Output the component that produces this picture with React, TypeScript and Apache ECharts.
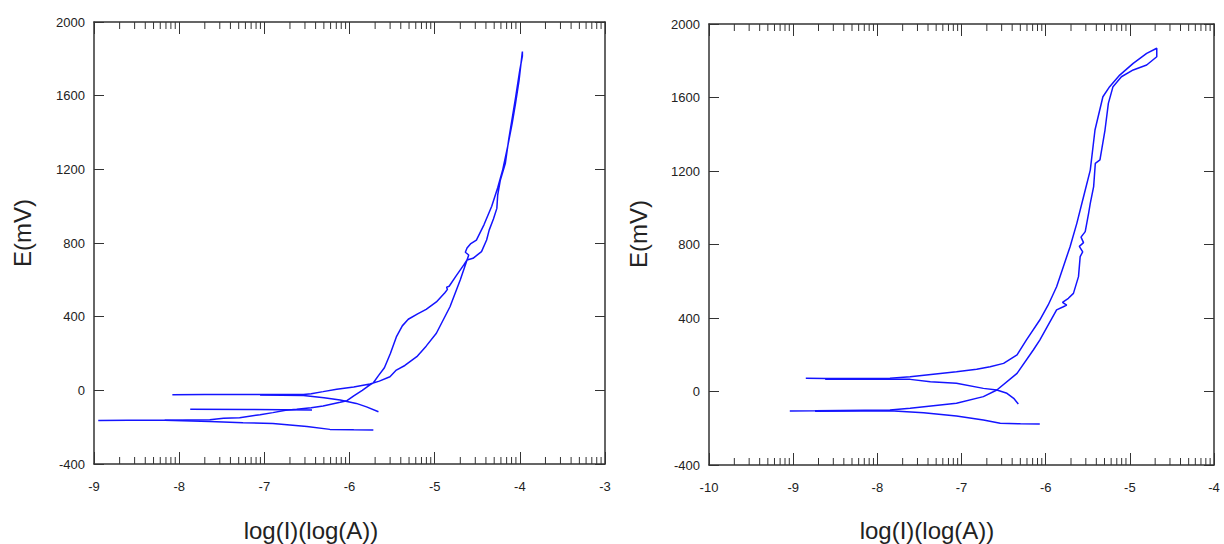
import React, { useEffect, useRef } from "react";
import * as echarts from "echarts";

// ---------- data (log I [log A], E [mV]) ----------
const LEFT_MAIN_LOOP: number[][] = [
  [-8.95, -164], [-8.6, -163], [-8.17, -162], [-7.64, -160], [-7.48, -152], [-7.29, -149],
  [-7.05, -132], [-6.9, -121], [-6.75, -108], [-6.62, -103], [-6.45, -95], [-6.31, -85],
  [-6.11, -65], [-6.03, -56], [-5.95, -30], [-5.85, 0], [-5.76, 30], [-5.72, 41], [-5.66, 80],
  [-5.59, 123], [-5.52, 200], [-5.45, 290], [-5.38, 350], [-5.31, 386], [-5.2, 415],
  [-5.1, 440], [-4.98, 480], [-4.88, 530], [-4.85, 548], [-4.86, 560], [-4.83, 565],
  [-4.75, 620], [-4.66, 680], [-4.62, 708], [-4.6, 735], [-4.64, 750], [-4.62, 773],
  [-4.58, 795], [-4.51, 816], [-4.42, 900], [-4.33, 1000], [-4.26, 1100], [-4.2, 1200],
  [-4.14, 1330], [-4.09, 1450], [-4.05, 1560], [-4.01, 1680], [-3.97, 1840],
  [-3.97, 1815], [-4.0, 1740], [-4.05, 1590], [-4.09, 1477], [-4.13, 1364], [-4.17, 1233],
  [-4.23, 1139], [-4.26, 1060], [-4.27, 988], [-4.31, 930], [-4.36, 870], [-4.39, 816],
  [-4.45, 753], [-4.55, 717], [-4.62, 708], [-4.7, 599], [-4.82, 454], [-4.98, 310],
  [-5.1, 240], [-5.21, 183], [-5.35, 135], [-5.45, 110], [-5.525, 74], [-5.65, 50],
  [-5.76, 34], [-5.95, 18], [-6.15, 6], [-6.31, -7], [-6.45, -18], [-6.54, -22],
  [-7.0, -22], [-7.29, -22], [-7.7, -23], [-8.08, -24],
];
const LEFT_LOWER_BRANCH: number[][] = [
  [-8.17, -163], [-7.64, -169], [-7.25, -176], [-6.9, -180], [-6.7, -188], [-6.5, -197],
  [-6.23, -212], [-5.95, -214], [-5.72, -215],
];
const LEFT_MID_BRANCH: number[][] = [
  [-7.87, -103], [-7.2, -104], [-6.44, -107],
];
const LEFT_BEND_BRANCH: number[][] = [
  [-7.05, -26], [-6.54, -28], [-6.3, -40], [-6.11, -52], [-5.92, -71], [-5.8, -90], [-5.66, -116],
];

const RIGHT_MAIN_LOOP: number[][] = [
  [-8.85, 72], [-8.62, 71], [-8.2, 71], [-7.85, 72], [-7.61, 80], [-7.335, 94], [-7.06, 108],
  [-6.82, 121], [-6.66, 135], [-6.5, 153], [-6.34, 199], [-6.23, 280], [-6.07, 389],
  [-5.97, 471], [-5.87, 570], [-5.83, 625], [-5.71, 788], [-5.63, 915], [-5.55, 1060],
  [-5.47, 1205], [-5.414, 1423], [-5.32, 1604], [-5.24, 1659], [-5.12, 1722], [-4.96, 1786],
  [-4.8, 1840], [-4.68, 1868],
  [-4.68, 1822], [-4.8, 1777], [-4.96, 1750], [-5.1, 1713], [-5.2, 1659], [-5.255, 1568],
  [-5.295, 1423], [-5.355, 1260], [-5.41, 1242], [-5.43, 1115], [-5.47, 1024], [-5.49, 970],
  [-5.53, 870], [-5.58, 840], [-5.55, 810], [-5.6, 790], [-5.56, 760], [-5.59, 734],
  [-5.61, 625], [-5.67, 534], [-5.73, 507], [-5.8, 485], [-5.75, 470], [-5.79, 461],
  [-5.87, 444], [-6.07, 280], [-6.147, 226], [-6.34, 99], [-6.58, 8], [-6.74, -28],
  [-7.06, -64], [-7.61, -91], [-7.85, -101], [-8.74, -105], [-9.04, -106],
];
const RIGHT_UPPER_BEND: number[][] = [
  [-8.62, 67], [-8.2, 67], [-7.85, 66], [-7.61, 66], [-7.37, 53], [-7.06, 45], [-6.74, 17],
  [-6.58, 8], [-6.46, -10], [-6.38, -37], [-6.325, -68],
];
const RIGHT_LOWER_BRANCH: number[][] = [
  [-8.74, -107], [-8.2, -106], [-7.85, -105], [-7.45, -115], [-7.06, -133], [-6.74, -155],
  [-6.54, -173], [-6.3, -176], [-6.07, -177],
];

// axis ranges / ticks
const LEFT_X_RANGE = [-9, -3];
const RIGHT_X_RANGE = [-10, -4];
const Y_RANGE = [-400, 2000];
const Y_STEP = 400;
// minor log-decade tick offsets (log10 of 2..9)
const MINOR_OFFSETS = [0.301, 0.477, 0.602, 0.699, 0.778, 0.845, 0.903, 0.954];

const X_TITLE = "log(I)(log(A))";
const Y_TITLE = "E(mV)";

const FONT = "Liberation Sans, Arial, sans-serif";
const AXIS_COLOR = "#333";
const LINE_COLOR = "#1414ff";

function minorTicks(range: number[]): number[][] {
  const out: number[][] = [];
  for (let d = range[0]; d < range[1]; d++) {
    MINOR_OFFSETS.forEach((o) => out.push([d + o, 0]));
  }
  return out;
}

export default function App() {
  const ref = useRef<HTMLDivElement>(null);

  useEffect(() => {
    if (!ref.current) return;
    const chart = echarts.init(ref.current, undefined, { renderer: "svg" });

    const grids = [
      { left: 94, top: 22, width: 511, height: 442 },
      { left: 709, top: 24, width: 505, height: 441 },
    ];
    const ranges = [LEFT_X_RANGE, RIGHT_X_RANGE];
    const plain = (v: number) => String(v);

    const xAxis: any[] = [];
    const yAxis: any[] = [];
    ranges.forEach((r, g) => {
      const base = {
        gridIndex: g,
        type: "value",
        min: r[0],
        max: r[1],
        interval: 1,
        splitLine: { show: false },
        axisLine: { show: true, onZero: false, lineStyle: { color: AXIS_COLOR, width: 1.5 } },
      };
      xAxis.push({
        ...base,
        position: "bottom",
        axisTick: { show: true, inside: true, length: 12, lineStyle: { color: AXIS_COLOR, width: 1 } },
        axisLabel: { color: "#222", fontSize: 13, fontFamily: FONT, margin: 16, formatter: plain },
      });
      xAxis.push({
        ...base,
        position: "top",
        axisTick: { show: true, inside: true, length: 12, lineStyle: { color: AXIS_COLOR, width: 1 } },
        axisLabel: { show: false },
      });
      const ybase = {
        gridIndex: g,
        type: "value",
        min: Y_RANGE[0],
        max: Y_RANGE[1],
        interval: Y_STEP,
        splitLine: { show: false },
        axisLine: { show: true, onZero: false, lineStyle: { color: AXIS_COLOR, width: 1.5 } },
        axisTick: { show: true, inside: true, length: 10, lineStyle: { color: AXIS_COLOR, width: 1 } },
      };
      yAxis.push({
        ...ybase,
        position: "left",
        axisLabel: { color: "#222", fontSize: 13, fontFamily: FONT, margin: 9, formatter: plain },
      });
      yAxis.push({ ...ybase, position: "right", axisLabel: { show: false } });
    });

    const lineSeries = (data: number[][], g: number) => ({
      type: "line",
      xAxisIndex: g * 2,
      yAxisIndex: g * 2,
      data,
      showSymbol: false,
      symbol: "none",
      lineStyle: { color: LINE_COLOR, width: 1.5 },
      silent: true,
      z: 3,
    });

    const minorSeries = (range: number[], g: number) => ({
      type: "custom",
      xAxisIndex: g * 2,
      yAxisIndex: g * 2,
      clip: false,
      silent: true,
      data: minorTicks(range),
      renderItem: (_p: any, api: any) => {
        const v = api.value(0);
        const pb = api.coord([v, Y_RANGE[0]]);
        const pt = api.coord([v, Y_RANGE[1]]);
        return {
          type: "group",
          children: [
            { type: "line", shape: { x1: pb[0], y1: pb[1], x2: pb[0], y2: pb[1] - 7 }, style: { stroke: AXIS_COLOR, lineWidth: 1 } },
            { type: "line", shape: { x1: pt[0], y1: pt[1], x2: pt[0], y2: pt[1] + 7 }, style: { stroke: AXIS_COLOR, lineWidth: 1 } },
          ],
        };
      },
    });

    const titleText = (x: number, y: number, text: string, rot: number) => ({
      type: "text",
      x,
      y,
      rotation: rot,
      style: {
        text,
        font: `24px ${FONT}`,
        fill: "#222",
        align: "center",
        verticalAlign: "middle",
      },
    });

    chart.setOption({
      animation: false,
      backgroundColor: "#fff",
      grid: grids,
      xAxis,
      yAxis,
      graphic: [
        titleText(22, 233, Y_TITLE, Math.PI / 2),
        titleText(638, 234, Y_TITLE, Math.PI / 2),
        titleText(311, 530, X_TITLE, 0),
        titleText(927, 530, X_TITLE, 0),
      ],
      series: [
        minorSeries(LEFT_X_RANGE, 0),
        minorSeries(RIGHT_X_RANGE, 1),
        lineSeries(LEFT_MAIN_LOOP, 0),
        lineSeries(LEFT_LOWER_BRANCH, 0),
        lineSeries(LEFT_MID_BRANCH, 0),
        lineSeries(LEFT_BEND_BRANCH, 0),
        lineSeries(RIGHT_MAIN_LOOP, 1),
        lineSeries(RIGHT_UPPER_BEND, 1),
        lineSeries(RIGHT_LOWER_BRANCH, 1),
      ],
    });

    return () => chart.dispose();
  }, []);

  return (
    <div
      ref={ref}
      style={{ position: "fixed", left: 0, top: 0, width: 1224, height: 544, background: "#fff" }}
    />
  );
}
